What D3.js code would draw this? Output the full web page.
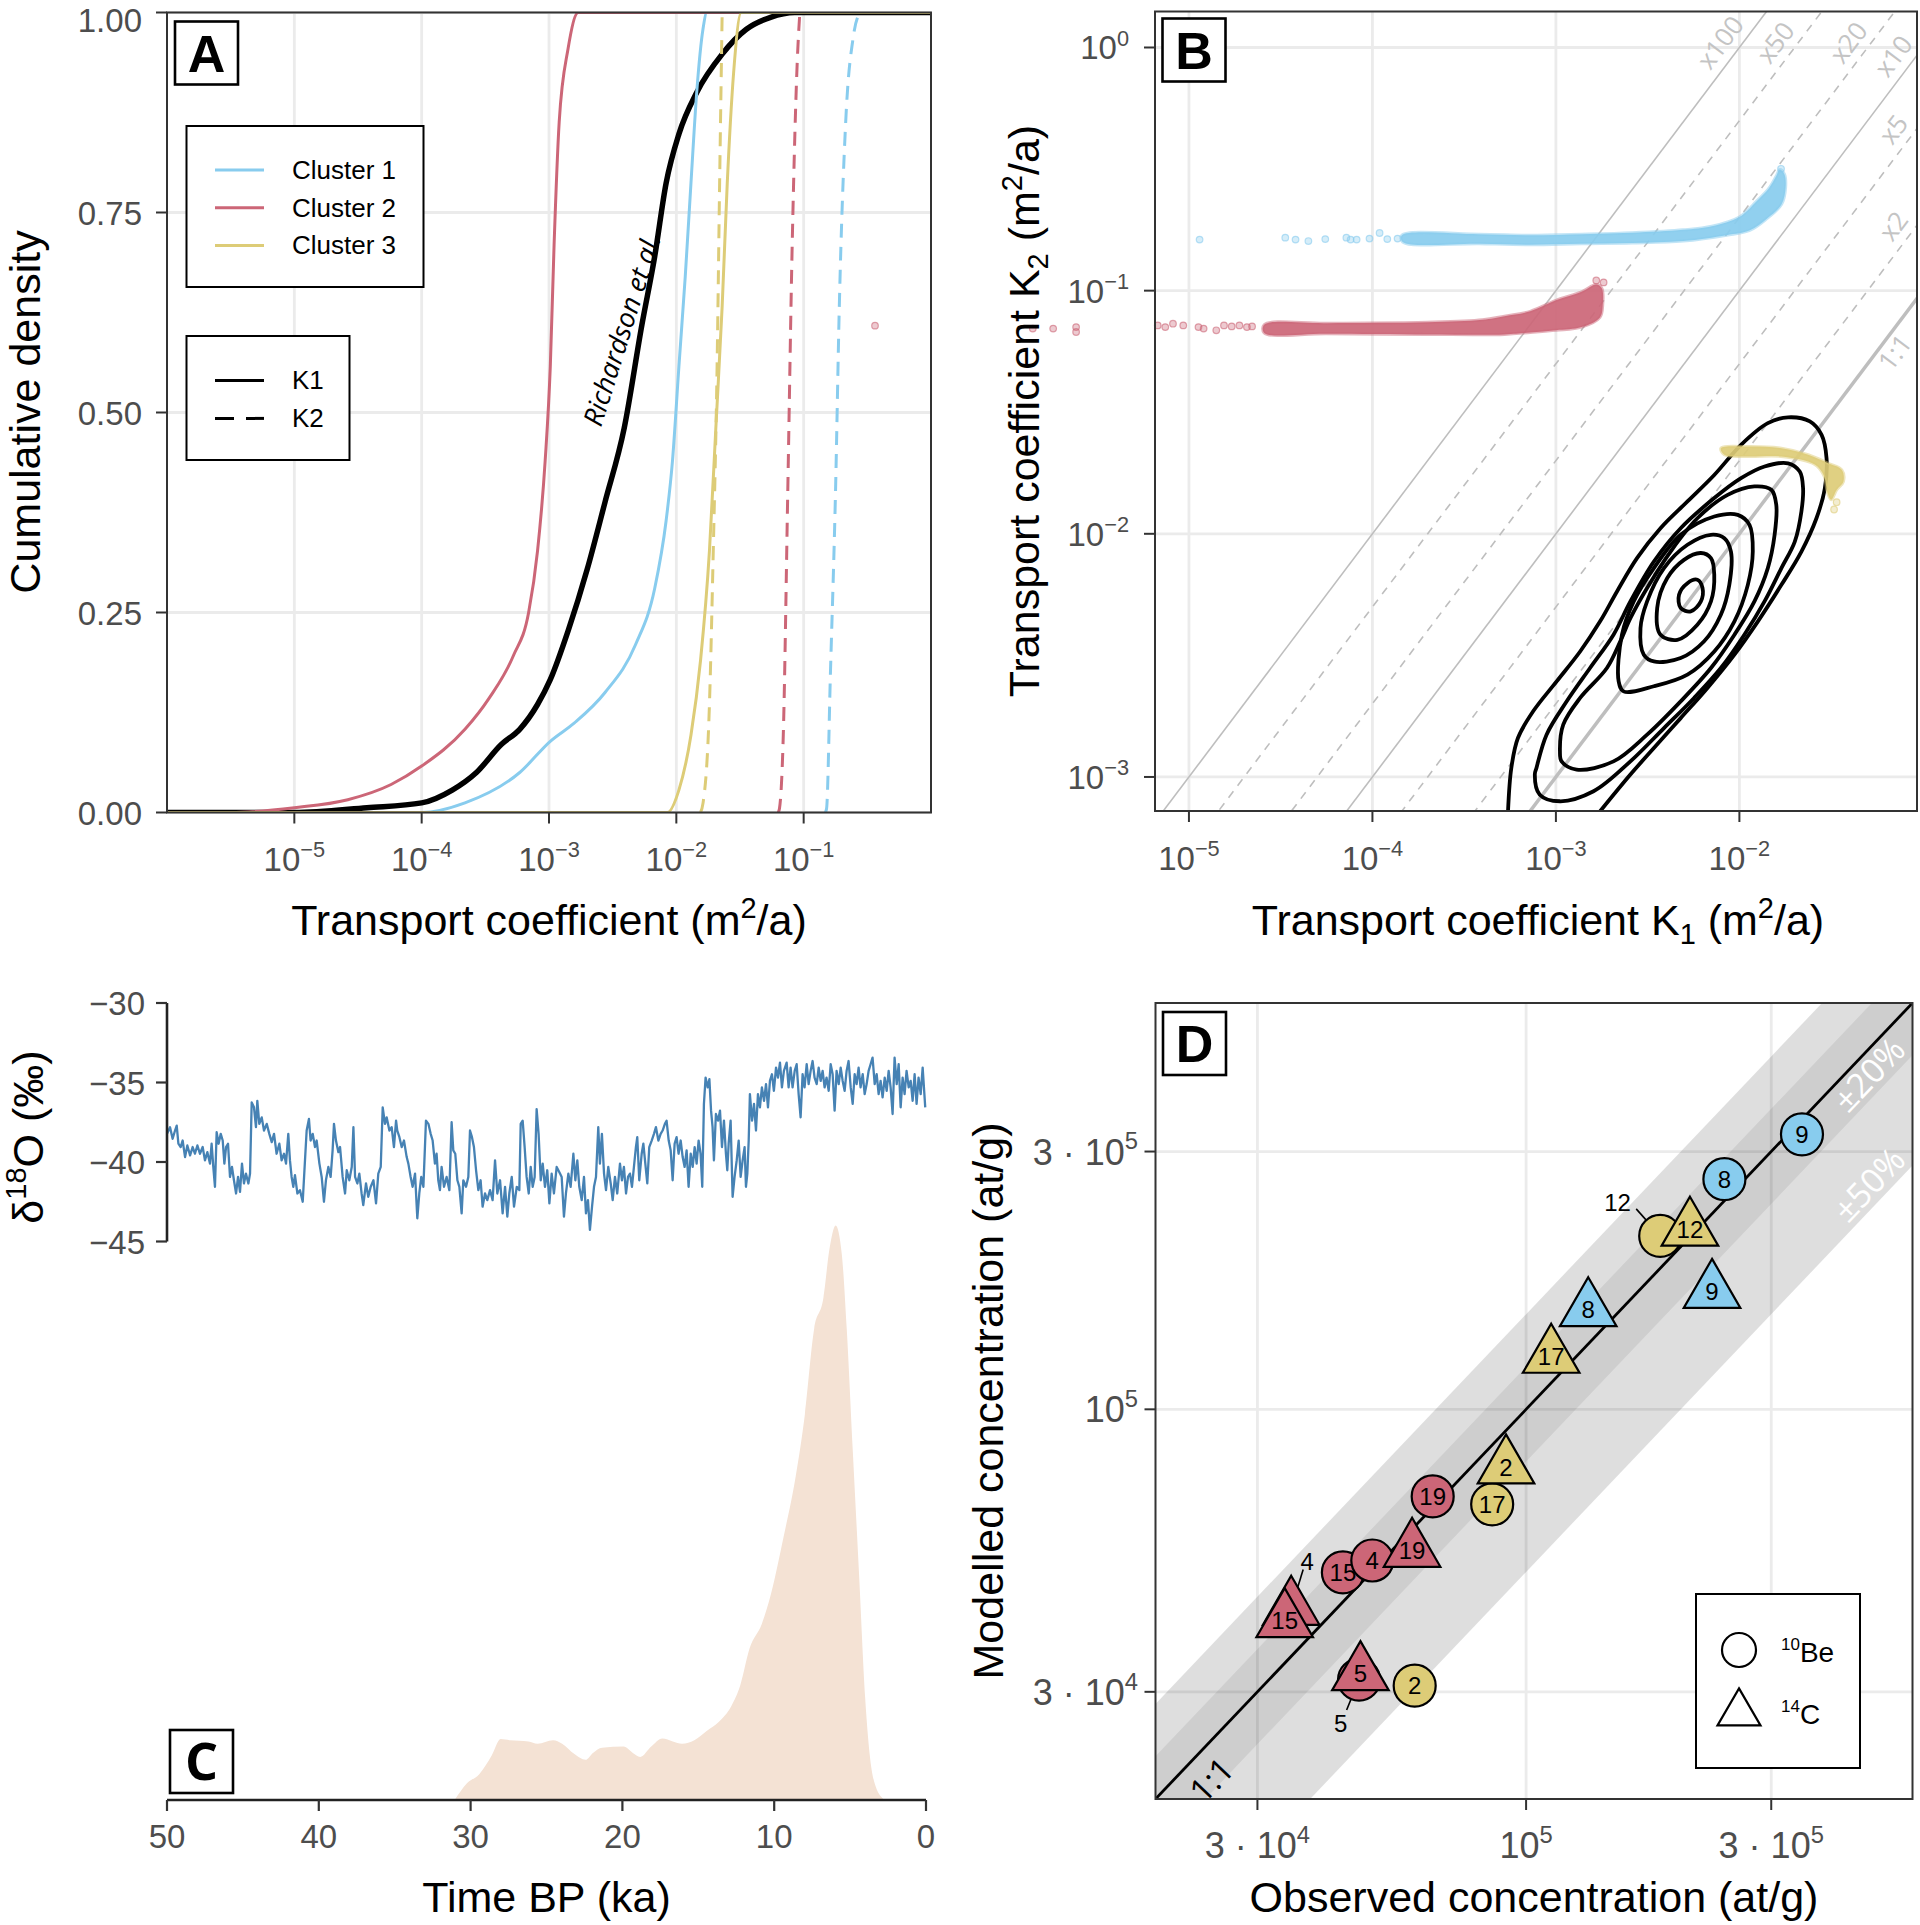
<!DOCTYPE html>
<html><head><meta charset="utf-8">
<script src="https://cdn.jsdelivr.net/npm/d3@7/dist/d3.min.js"></script>
<style>html,body{margin:0;padding:0;background:#fff;}svg{display:block;}</style>
</head><body>
<svg id="fig" width="1920" height="1925" xmlns="http://www.w3.org/2000/svg"></svg>
<script>
// ---------------- DATA ----------------
const clusterNames = ["Cluster 1","Cluster 2","Cluster 3"];
const clusterColors = ["#88CCEE","#CC6677","#DDCC77"];

// Panel A: empirical CDFs, pairs [log10(K), cumulative density]
const cdfRichardson = [[-6.1,0],[-5.0,0],[-4.43,0.006],[-4.0,0.012],[-3.76,0.028],[-3.57,0.05],[-3.375,0.085],[-3.23,0.104],[-3.09,0.135],[-2.99,0.166],[-2.85,0.227],[-2.70,0.304],[-2.56,0.388],[-2.41,0.48],[-2.27,0.61],[-2.17,0.695],[-2.08,0.787],[-1.98,0.848],[-1.84,0.90],[-1.64,0.948],[-1.45,0.979],[-1.26,0.994],[-1.07,1.0],[0.1,1]];
const cdfC1K1 = [[-6.1,0],[-4.0,0],[-3.66,0.012],[-3.23,0.05],[-2.99,0.089],[-2.80,0.112],[-2.56,0.15],[-2.32,0.21],[-2.17,0.28],[-2.08,0.365],[-2.03,0.44],[-1.98,0.557],[-1.93,0.67],[-1.885,0.787],[-1.84,0.90],[-1.79,0.98],[-1.76,1.0],[0.1,1]];
const cdfC2K1 = [[-6.1,0],[-5.5,0],[-5.0,0.006],[-4.58,0.016],[-4.24,0.035],[-4.0,0.058],[-3.66,0.104],[-3.47,0.143],[-3.28,0.196],[-3.16,0.25],[-3.09,0.327],[-3.03,0.44],[-2.99,0.557],[-2.96,0.71],[-2.92,0.863],[-2.85,0.955],[-2.77,1.0],[0.1,1]];
const cdfC3K1 = [[-6.1,0],[-2.07,0],[-1.98,0.028],[-1.885,0.097],[-1.81,0.19],[-1.74,0.327],[-1.69,0.48],[-1.64,0.633],[-1.60,0.787],[-1.55,0.925],[-1.49,1.0],[0.1,1]];
const cdfC1K2 = [[-0.83,0],[-0.82,0.005],[-0.79,0.173],[-0.75,0.40],[-0.72,0.633],[-0.67,0.863],[-0.61,0.97],[-0.56,1]];
const cdfC2K2 = [[-1.20,0],[-1.19,0.005],[-1.16,0.097],[-1.125,0.40],[-1.09,0.71],[-1.05,0.94],[-1.03,1]];
const cdfC3K2 = [[-1.81,0],[-1.79,0.012],[-1.74,0.135],[-1.71,0.327],[-1.68,0.557],[-1.66,0.787],[-1.64,1.0]];
const tickA_x = [1e-5,1e-4,1e-3,1e-2,1e-1];
const tickA_y = [0,0.25,0.5,0.75,1];

// Panel B: [log10 K1, log10 K2]
const diagMult = [1,2,5,10,20,50,100];
const diagLabel = ["1:1","x2","x5","x10","x20","x50","x100"];
const contour1 = [[-3.261,-3.141],[-3.243,-2.963],[-3.207,-2.840],[-3.124,-2.730],[-2.996,-2.607],[-2.868,-2.484],[-2.759,-2.360],[-2.667,-2.237],[-2.558,-2.100],[-2.430,-1.977],[-2.283,-1.867],[-2.137,-1.758],[-1.991,-1.634],[-1.845,-1.545],[-1.735,-1.521],[-1.616,-1.538],[-1.552,-1.593],[-1.525,-1.689],[-1.534,-1.812],[-1.580,-1.936],[-1.662,-2.073],[-1.771,-2.210],[-1.899,-2.360],[-2.027,-2.497],[-2.174,-2.634],[-2.320,-2.758],[-2.466,-2.881],[-2.594,-2.990],[-2.759,-3.141]];
const contour2 = [[-3.115,-2.990],[-3.106,-2.963],[-3.051,-2.826],[-2.941,-2.689],[-2.814,-2.552],[-2.686,-2.415],[-2.594,-2.278],[-2.466,-2.114],[-2.320,-1.977],[-2.137,-1.853],[-1.991,-1.771],[-1.863,-1.723],[-1.735,-1.710],[-1.671,-1.744],[-1.653,-1.812],[-1.662,-1.908],[-1.698,-2.032],[-1.771,-2.141],[-1.863,-2.278],[-1.973,-2.415],[-2.101,-2.552],[-2.247,-2.675],[-2.411,-2.799],[-2.594,-2.936],[-2.795,-3.059],[-2.978,-3.100],[-3.088,-3.073]];
const contour3 = [[-2.969,-2.936],[-2.978,-2.895],[-2.960,-2.785],[-2.868,-2.675],[-2.722,-2.552],[-2.649,-2.442],[-2.594,-2.347],[-2.503,-2.223],[-2.375,-2.073],[-2.229,-1.936],[-2.064,-1.840],[-1.918,-1.805],[-1.826,-1.819],[-1.799,-1.881],[-1.808,-2.004],[-1.845,-2.141],[-1.918,-2.278],[-2.027,-2.415],[-2.155,-2.552],[-2.320,-2.689],[-2.503,-2.826],[-2.686,-2.936],[-2.887,-2.970]];
const contour4 = [[-2.658,-2.607],[-2.640,-2.415],[-2.576,-2.278],[-2.466,-2.141],[-2.320,-2.004],[-2.137,-1.929],[-2.009,-1.922],[-1.945,-1.963],[-1.927,-2.073],[-1.954,-2.210],[-2.027,-2.360],[-2.137,-2.484],[-2.283,-2.579],[-2.466,-2.627],[-2.631,-2.648]];
const contour5 = [[-2.521,-2.497],[-2.539,-2.388],[-2.503,-2.278],[-2.411,-2.141],[-2.283,-2.045],[-2.155,-2.004],[-2.082,-2.018],[-2.046,-2.073],[-2.055,-2.210],[-2.101,-2.333],[-2.192,-2.442],[-2.320,-2.511],[-2.466,-2.525]];
const contour6 = [[-2.430,-2.415],[-2.448,-2.305],[-2.393,-2.182],[-2.302,-2.107],[-2.210,-2.079],[-2.155,-2.100],[-2.137,-2.168],[-2.155,-2.278],[-2.229,-2.374],[-2.338,-2.436]];
const contour7 = [[-2.320,-2.305],[-2.329,-2.251],[-2.283,-2.203],[-2.229,-2.189],[-2.201,-2.223],[-2.210,-2.278],[-2.265,-2.319]];
const cloud1 = [[-3.84,-0.772],[-3.42,-0.768],[-3.14,-0.772],[-2.86,-0.768],[-2.585,-0.762],[-2.306,-0.750],[-2.15,-0.735],[-2.0,-0.697],[-1.906,-0.632],[-1.84,-0.580],[-1.80,-0.530],[-1.78,-0.502],[-1.755,-0.52],[-1.748,-0.575],[-1.77,-0.645],[-1.852,-0.705],[-1.943,-0.752],[-2.07,-0.772],[-2.306,-0.796],[-2.585,-0.804],[-2.863,-0.807],[-3.141,-0.811],[-3.418,-0.807],[-3.835,-0.800]];
const cloud1Sparse = [[-4.942,-0.790],[-4.475,-0.782],[-4.419,-0.790],[-4.349,-0.796],[-4.257,-0.788],[-4.142,-0.782],[-4.119,-0.790],[-4.086,-0.790],[-4.016,-0.786],[-3.961,-0.763],[-3.919,-0.788],[-3.863,-0.786],[-1.773,-0.499]];
const cloud2 = [[-4.59,-1.140],[-4.25,-1.134],[-3.70,-1.130],[-3.40,-1.120],[-3.28,-1.105],[-3.14,-1.085],[-3.00,-1.040],[-2.86,-1.005],[-2.78,-0.975],[-2.75,-0.99],[-2.745,-1.06],[-2.76,-1.11],[-2.86,-1.150],[-3.00,-1.163],[-3.14,-1.172],[-3.28,-1.180],[-3.70,-1.180],[-4.25,-1.177],[-4.59,-1.174]];
const cloud2Sparse = [[-6.711,-1.144],[-5.851,-1.156],[-5.740,-1.156],[-5.615,-1.150],[-5.615,-1.170],[-5.170,-1.143],[-5.129,-1.150],[-5.087,-1.136],[-5.031,-1.143],[-4.948,-1.150],[-4.920,-1.156],[-4.851,-1.163],[-4.809,-1.143],[-4.767,-1.147],[-4.725,-1.143],[-4.684,-1.150],[-4.656,-1.147],[-2.78,-0.958],[-2.74,-0.966]];
const cloud3 = [[-2.101,-1.648],[-1.954,-1.641],[-1.771,-1.648],[-1.625,-1.675],[-1.516,-1.710],[-1.442,-1.737],[-1.433,-1.785],[-1.47,-1.82],[-1.50,-1.86],[-1.52,-1.83],[-1.54,-1.76],[-1.589,-1.715],[-1.771,-1.682],[-1.954,-1.682],[-2.082,-1.675]];
const cloud3Sparse = [[-1.484,-1.900],[-1.47,-1.87]];
const tickB_x = [1e-5,1e-4,1e-3,1e-2];
const tickB_y = [1e0,1e-1,1e-2,1e-3];

// Panel C: d18O record [age ka, permil] and density of exposure ages [ka, relative density]
const d18O = [[50.00,-38.23],[49.80,-37.81],[49.63,-38.54],[49.47,-38.02],[49.36,-37.71],[49.25,-38.85],[49.10,-39.06],[48.97,-38.65],[48.81,-39.69],[48.66,-38.96],[48.48,-39.58],[48.31,-39.06],[48.16,-39.48],[48.00,-38.96],[47.83,-39.48],[47.65,-39.06],[47.50,-39.90],[47.34,-39.38],[47.17,-40.10],[47.06,-38.85],[46.95,-40.31],[46.84,-41.56],[46.73,-38.13],[46.60,-38.85],[46.46,-38.23],[46.33,-38.65],[46.22,-40.10],[46.11,-39.06],[45.98,-38.85],[45.85,-40.94],[45.72,-40.31],[45.59,-41.15],[45.45,-41.98],[45.32,-40.94],[45.19,-41.88],[45.06,-40.10],[44.93,-41.35],[44.80,-40.73],[44.64,-41.35],[44.53,-40.73],[44.42,-36.25],[44.27,-36.56],[44.14,-37.81],[44.05,-36.15],[43.92,-37.60],[43.76,-37.19],[43.61,-38.02],[43.43,-37.60],[43.26,-38.23],[43.10,-38.75],[42.95,-38.23],[42.78,-39.48],[42.60,-38.85],[42.45,-39.90],[42.29,-39.48],[42.16,-40.10],[42.01,-38.23],[41.90,-39.90],[41.79,-40.94],[41.68,-41.56],[41.57,-40.83],[41.41,-41.98],[41.24,-41.77],[41.06,-42.50],[40.91,-39.90],[40.80,-38.02],[40.65,-37.29],[40.54,-38.65],[40.40,-38.23],[40.25,-39.06],[40.14,-38.65],[39.96,-40.10],[39.81,-40.94],[39.66,-42.50],[39.53,-41.15],[39.37,-40.31],[39.22,-40.94],[39.09,-39.27],[39.00,-37.60],[38.87,-38.65],[38.71,-39.38],[38.60,-39.06],[38.43,-40.94],[38.27,-41.98],[38.16,-40.52],[37.99,-41.15],[37.83,-40.31],[37.72,-37.81],[37.61,-40.94],[37.46,-41.35],[37.33,-40.73],[37.18,-41.98],[37.07,-42.71],[36.89,-41.35],[36.74,-42.19],[36.58,-41.56],[36.40,-41.15],[36.23,-42.60],[36.08,-40.73],[35.92,-40.31],[35.79,-36.56],[35.64,-37.60],[35.53,-37.19],[35.35,-38.02],[35.20,-37.81],[35.05,-39.06],[34.91,-37.40],[34.83,-38.02],[34.69,-38.44],[34.54,-39.06],[34.39,-38.65],[34.21,-39.69],[34.10,-40.10],[33.95,-40.94],[33.82,-41.56],[33.66,-40.73],[33.51,-43.54],[33.38,-41.98],[33.25,-40.94],[33.11,-41.56],[32.94,-37.40],[32.78,-37.60],[32.63,-38.23],[32.50,-38.65],[32.35,-40.10],[32.24,-39.48],[32.13,-41.15],[32.02,-41.77],[31.91,-40.31],[31.75,-41.56],[31.58,-40.94],[31.40,-41.77],[31.25,-37.50],[31.14,-39.27],[31.01,-39.48],[30.87,-41.15],[30.74,-41.56],[30.59,-43.23],[30.48,-41.15],[30.30,-41.56],[30.15,-40.94],[30.04,-38.02],[29.91,-38.44],[29.78,-39.06],[29.64,-40.52],[29.49,-41.77],[29.34,-41.15],[29.21,-42.81],[29.05,-41.98],[28.90,-42.40],[28.72,-41.77],[28.55,-42.40],[28.39,-39.90],[28.24,-41.98],[28.06,-41.15],[27.89,-43.23],[27.73,-41.56],[27.58,-43.44],[27.45,-41.98],[27.29,-40.94],[27.14,-42.81],[26.96,-41.56],[26.79,-41.77],[26.70,-37.60],[26.57,-37.40],[26.44,-39.06],[26.31,-40.94],[26.17,-41.98],[26.04,-40.31],[25.91,-41.56],[25.78,-40.94],[25.65,-36.67],[25.52,-38.23],[25.38,-41.15],[25.25,-40.10],[25.10,-41.56],[24.95,-40.52],[24.81,-42.60],[24.66,-40.73],[24.51,-41.98],[24.33,-40.31],[24.11,-40.73],
[24.00,-40.94],[23.85,-43.44],[23.72,-41.98],[23.56,-40.73],[23.41,-41.56],[23.23,-39.48],[23.10,-41.15],[22.97,-39.90],[22.84,-41.56],[22.68,-42.40],[22.53,-40.94],[22.40,-43.23],[22.27,-42.40],[22.14,-44.27],[22.00,-42.81],[21.87,-41.56],[21.74,-40.94],[21.59,-37.81],[21.48,-40.10],[21.35,-38.23],[21.21,-40.73],[21.08,-41.77],[20.93,-40.31],[20.77,-41.35],[20.64,-42.40],[20.49,-40.94],[20.34,-41.98],[20.16,-40.10],[20.03,-41.15],[19.90,-40.31],[19.76,-41.98],[19.63,-40.94],[19.50,-40.73],[19.37,-41.56],[19.24,-40.31],[19.11,-39.06],[19.02,-38.44],[18.89,-41.15],[18.73,-39.48],[18.62,-38.85],[18.49,-40.10],[18.36,-41.35],[18.23,-39.06],[18.07,-38.65],[17.92,-38.23],[17.79,-37.81],[17.63,-38.65],[17.48,-38.23],[17.35,-38.02],[17.20,-37.60],[17.09,-37.40],[16.95,-38.65],[16.82,-39.27],[16.69,-41.15],[16.56,-38.85],[16.43,-38.44],[16.30,-39.48],[16.16,-38.65],[16.03,-39.69],[15.90,-40.31],[15.77,-39.27],[15.64,-41.56],[15.50,-39.48],[15.37,-40.31],[15.24,-39.06],[15.11,-40.10],[14.98,-38.65],[14.85,-39.48],[14.74,-41.56],[14.63,-36.35],[14.52,-34.69],[14.38,-35.31],[14.27,-34.79],[14.16,-36.77],[14.06,-37.81],[13.97,-39.90],[13.84,-36.98],[13.70,-37.40],[13.57,-36.77],[13.44,-39.06],[13.31,-37.40],[13.18,-39.48],[13.09,-40.52],[13.00,-38.85],[12.87,-37.40],[12.74,-42.19],[12.61,-40.94],[12.47,-39.90],[12.34,-38.65],[12.21,-40.94],[12.08,-39.90],[11.95,-39.06],[11.86,-41.56],[11.77,-40.73],[11.68,-38.65],[11.60,-35.73],[11.46,-37.40],[11.33,-36.35],[11.20,-38.02],[11.07,-35.73],[10.94,-36.56],[10.81,-35.31],[10.67,-36.15],[10.54,-35.10],[10.41,-36.56],[10.28,-34.90],[10.15,-34.48],[10.02,-35.52],[9.88,-34.06],[9.75,-34.69],[9.62,-33.75],[9.49,-35.31],[9.36,-34.27],[9.18,-33.75],[9.05,-35.31],[8.92,-34.06],[8.79,-35.31],[8.65,-34.27],[8.52,-33.85],[8.39,-35.73],[8.26,-37.19],[8.13,-34.48],[8.00,-35.31],[7.86,-33.85],[7.73,-35.10],[7.60,-34.27],[7.47,-33.65],[7.34,-34.69],[7.20,-35.10],[7.07,-34.06],[6.94,-34.90],[6.81,-34.27],[6.68,-35.31],[6.55,-34.69],[6.41,-35.52],[6.28,-33.85],[6.15,-34.48],[6.02,-36.77],[5.89,-34.27],[5.75,-35.10],[5.62,-34.06],[5.49,-34.90],[5.36,-35.52],[5.23,-34.27],[5.10,-33.65],[4.96,-35.31],[4.83,-36.35],[4.70,-34.48],[4.57,-35.10],[4.44,-34.06],[4.31,-35.31],[4.17,-34.48],[4.04,-35.73],[3.91,-35.10],[3.78,-34.27],[3.65,-33.85],[3.52,-33.44],[3.38,-35.10],[3.25,-34.48],[3.12,-35.73],[2.99,-34.90],[2.86,-35.94],[2.72,-34.69],[2.59,-35.52],[2.46,-34.27],[2.33,-35.31],[2.20,-36.98],[2.07,-33.44],[1.93,-35.10],[1.80,-33.85],[1.67,-36.56],[1.54,-34.69],[1.41,-35.73],[1.28,-34.27],[1.14,-35.31],[1.01,-34.90],[0.88,-36.15],[0.75,-34.48],[0.62,-36.35],[0.49,-34.69],[0.35,-35.73],[0.22,-34.06],[0.05,-36.56]];
const ageDensity = [[31.05,0],[30.24,0.029],[29.43,0.045],[28.62,0.077],[28.02,0.106],[27.41,0.104],[26.19,0.102],[25.59,0.098],[24.57,0.104],[23.97,0.098],[23.16,0.080],[22.43,0.070],[21.94,0.082],[21.34,0.091],[19.92,0.093],[19.31,0.082],[18.83,0.075],[18.10,0.093],[17.37,0.107],[16.68,0.102],[16.07,0.098],[15.26,0.104],[14.45,0.120],[13.64,0.136],[12.83,0.163],[12.23,0.200],[11.62,0.264],[10.81,0.307],[10.20,0.360],[9.39,0.457],[8.58,0.564],[7.98,0.671],[7.37,0.820],[6.76,0.874],[6.36,0.959],[5.95,1.0],[5.55,0.951],[5.22,0.820],[4.82,0.606],[4.41,0.393],[4.01,0.179],[3.72,0.082],[3.32,0.024],[2.71,0]];
const tickC_x = [50,40,30,20,10,0];
const tickC_y = [-30,-35,-40,-45];

// Panel D: observed vs modelled concentrations (at/g)
const beSample  = ["9","8","12","17","19","15","4","5","2"];
const beCluster = [1,1,3,3,2,2,2,2,3];
const beObs = [344300,243200,182400,85900,65800,44000,50200,47300,60700];
const beMod = [322800,266700,209400,66700,69000,49900,52500,31600,30800];
const cSample  = ["12","9","8","17","2","19","4","15","5"];
const cCluster = [3,1,1,3,3,2,2,2,2];
const cObs = [208400,230100,132100,111900,91400,60000,34900,33900,47600];
const cMod = [215300,165200,152800,125300,78200,54800,42800,40600,32400];
const bandFactors = [0.5,0.2];
const tickD = [3e4,1e5,3e5];

// ---------------- DRAWING ----------------
const svg = d3.select("#fig");
const SANS = "'Liberation Sans', Arial, Helvetica, sans-serif";
const OPEN = "'Open Sans', 'Liberation Sans', sans-serif";
const GRID = "#EBEBEB", BORDER = "#333333", TT = "#4D4D4D";
const MINUS = "\u2212";
const defs = svg.append("defs");
function clipRect(id, r){ defs.append("clipPath").attr("id",id).append("rect").attr("x",r.l).attr("y",r.t).attr("width",r.r-r.l).attr("height",r.b-r.t); return `url(#${id})`; }
function expStr(v){ const e=Math.round(Math.log10(v)); return e<0? MINUS+(-e) : String(e); }
function supText(g, x, y, base, sup, size, anchor, fill){
  const t = g.append("text").attr("x",x).attr("y",y).attr("font-family",SANS).attr("font-size",size).attr("text-anchor",anchor).attr("fill",fill);
  t.append("tspan").text(base);
  t.append("tspan").attr("font-size",size*0.66).attr("dy",-size*0.42).text(sup);
  return t;
}
function letterBox(x,y,letter,font){
  svg.append("rect").attr("x",x).attr("y",y).attr("width",63).attr("height",63).attr("fill","#fff").attr("stroke","#000").attr("stroke-width",2.6);
  svg.append("text").attr("x",x+31.5).attr("y",y+50).attr("text-anchor","middle").attr("font-family",font).attr("font-weight","bold").attr("font-size",52).attr("fill","#000").text(letter);
}
function border(p){ svg.append("rect").attr("x",p.l).attr("y",p.t).attr("width",p.r-p.l).attr("height",p.b-p.t).attr("fill","none").attr("stroke",BORDER).attr("stroke-width",2); }
function yTitle(x,y,build){ const t=svg.append("text").attr("transform",`translate(${x},${y}) rotate(-90)`).attr("y",15).attr("text-anchor","middle").attr("font-family",SANS).attr("font-size",43).attr("fill","#000"); build(t); return t; }
function xTitle(x,y,build){ const t=svg.append("text").attr("x",x).attr("y",y).attr("text-anchor","middle").attr("font-family",SANS).attr("font-size",43).attr("fill","#000"); build(t); return t; }

// ===== Panel A =====
const pA = {l:167,r:931,t:12.5,b:812.5};
const xA = d3.scaleLog().domain([1e-6,1]).range([pA.l,pA.r]);
const yA = d3.scaleLinear().domain([0,1]).range([pA.b,pA.t]);
const gA = svg.append("g");
gA.selectAll(null).data(tickA_x).join("line").attr("x1",d=>xA(d)).attr("x2",d=>xA(d)).attr("y1",pA.t).attr("y2",pA.b).attr("stroke",GRID).attr("stroke-width",2.8);
gA.selectAll(null).data(tickA_y).join("line").attr("x1",pA.l).attr("x2",pA.r).attr("y1",d=>yA(d)).attr("y2",d=>yA(d)).attr("stroke",GRID).attr("stroke-width",2.8);
const lineA = d3.line().x(d=>xA(10**d[0])).y(d=>yA(d[1])).curve(d3.curveMonotoneX);
const cA = gA.append("g").attr("clip-path",clipRect("clipA",pA));
cA.append("path").attr("d",lineA(cdfRichardson)).attr("fill","none").attr("stroke","#000").attr("stroke-width",5.5);
[[cdfC1K1,0,false],[cdfC2K1,1,false],[cdfC3K1,2,false],[cdfC1K2,0,true],[cdfC2K2,1,true],[cdfC3K2,2,true]].forEach(([d,c,dash])=>{
  cA.append("path").attr("d",lineA(d)).attr("fill","none").attr("stroke",clusterColors[c]).attr("stroke-width",3).attr("stroke-dasharray",dash?"14,9":null);
});
gA.append("text").attr("transform","translate(622,330) rotate(-72.5)").attr("text-anchor","middle").attr("dy","0.35em").attr("font-family",OPEN).attr("font-style","italic").attr("font-size",27).text("Richardson et al.");
// legends
gA.append("rect").attr("x",186.5).attr("y",126).attr("width",237).attr("height",161).attr("fill","#fff").attr("stroke","#000").attr("stroke-width",2);
clusterNames.forEach((n,i)=>{
  const y=170+i*37.7;
  gA.append("line").attr("x1",215).attr("x2",264).attr("y1",y).attr("y2",y).attr("stroke",clusterColors[i]).attr("stroke-width",3);
  gA.append("text").attr("x",292).attr("y",y+9).attr("font-family",SANS).attr("font-size",26).text(n);
});
gA.append("rect").attr("x",186.5).attr("y",336).attr("width",163).attr("height",124).attr("fill","#fff").attr("stroke","#000").attr("stroke-width",2);
["K1","K2"].forEach((n,i)=>{
  const y=380.4+i*38;
  gA.append("line").attr("x1",215).attr("x2",264).attr("y1",y).attr("y2",y).attr("stroke","#000").attr("stroke-width",3).attr("stroke-dasharray",i?"19,12":null);
  gA.append("text").attr("x",292).attr("y",y+9).attr("font-family",SANS).attr("font-size",26).text(n);
});
border(pA);
tickA_x.forEach(v=>{ gA.append("line").attr("x1",xA(v)).attr("x2",xA(v)).attr("y1",pA.b).attr("y2",pA.b+11).attr("stroke",BORDER).attr("stroke-width",2);
  supText(gA,xA(v),pA.b+58,"10",expStr(v),33,"middle",TT); });
tickA_y.forEach(v=>{ gA.append("line").attr("x1",pA.l-11).attr("x2",pA.l).attr("y1",yA(v)).attr("y2",yA(v)).attr("stroke",BORDER).attr("stroke-width",2);
  gA.append("text").attr("x",142).attr("y",Math.max(yA(v)+12,32)).attr("text-anchor","end").attr("font-family",SANS).attr("font-size",33).attr("fill",TT).text(d3.format(".2f")(v)); });
xTitle(549,935,t=>{ t.append("tspan").text("Transport coefficient (m"); t.append("tspan").attr("font-size",29).attr("dy",-17).text("2"); t.append("tspan").attr("dy",17).text("/a)"); });
yTitle(25,412,t=>t.text("Cumulative density"));
letterBox(175,21.5,"A",SANS);

// ===== Panel B =====
const pB = {l:1155,r:1917,t:11.5,b:811};
const xB = d3.scaleLog().domain([10**-5.185,10**-1.032]).range([pB.l,pB.r]);
const yB = d3.scaleLog().domain([10**-3.14,10**0.148]).range([pB.b,pB.t]);
const gB = svg.append("g");
gB.selectAll(null).data(tickB_x).join("line").attr("x1",d=>xB(d)).attr("x2",d=>xB(d)).attr("y1",pB.t).attr("y2",pB.b).attr("stroke",GRID).attr("stroke-width",2.8);
gB.selectAll(null).data(tickB_y).join("line").attr("x1",pB.l).attr("x2",pB.r).attr("y1",d=>yB(d)).attr("y2",d=>yB(d)).attr("stroke",GRID).attr("stroke-width",2.8);
const cB = gB.append("g").attr("clip-path",clipRect("clipB",pB));
const dashedMult = {2:true,5:true,20:true,50:true};
const k1Dom = [1e-7,1];
diagMult.forEach(m=>{
  cB.append("line").attr("x1",xB(k1Dom[0])).attr("y1",yB(k1Dom[0]*m)).attr("x2",xB(k1Dom[1])).attr("y2",yB(k1Dom[1]*m))
    .attr("stroke","#BEBEBE").attr("stroke-width",m===1?3.5:1.6).attr("stroke-dasharray",dashedMult[m]?"8,7":null);
});
const angB = -Math.atan2(yB(1e-3)-yB(1e-2), xB(1e-2)-xB(1e-3))*180/Math.PI;
diagMult.forEach((m,i)=>{
  let px,py,ox=-14.4,oy=-10.9;
  if(m>=20){ py=pB.t+42; const k2=yB.invert(py); px=xB(k2/m); }
  else if(m>1){ px=pB.r-9; py=yB(xB.invert(px)*m); }
  else { px=pB.r-34; py=yB(xB.invert(px)); ox=12; oy=9; }
  gB.append("text").attr("transform",`translate(${px+ox},${py+oy}) rotate(${angB})`).attr("text-anchor","middle").attr("dy","0.35em")
    .attr("font-family",OPEN).attr("font-size",26).attr("fill","#C4C4C4").text(diagLabel[i]);
});
const lineBc = d3.line().x(d=>xB(10**d[0])).y(d=>yB(10**d[1]));
cB.append("path").attr("d",lineBc.curve(d3.curveCatmullRom.alpha(0.5))(contour1)).attr("fill","none").attr("stroke","#000").attr("stroke-width",3.8);
[contour2,contour3,contour4,contour5,contour6,contour7].forEach(c=>{
  cB.append("path").attr("d",lineBc.curve(d3.curveCatmullRomClosed.alpha(0.5))(c)).attr("fill","none").attr("stroke","#000").attr("stroke-width",3.8);
});
[[cloud1,cloud1Sparse,0],[cloud2,cloud2Sparse,1],[cloud3,cloud3Sparse,2]].forEach(([poly,sp,c])=>{
  gB.append("path").attr("d",lineBc.curve(d3.curveCatmullRomClosed.alpha(0.5))(poly)).attr("fill",clusterColors[c]).attr("fill-opacity",0.92).attr("stroke",clusterColors[c]).attr("stroke-opacity",0.5).attr("stroke-width",3);
  gB.selectAll(null).data(sp).join("circle").attr("cx",d=>xB(10**d[0])).attr("cy",d=>yB(10**d[1])).attr("r",3.3)
    .attr("fill",clusterColors[c]).attr("fill-opacity",0.35).attr("stroke",clusterColors[c]).attr("stroke-opacity",0.6).attr("stroke-width",1.2);
});
border(pB);
tickB_x.forEach(v=>{ gB.append("line").attr("x1",xB(v)).attr("x2",xB(v)).attr("y1",pB.b).attr("y2",pB.b+11).attr("stroke",BORDER).attr("stroke-width",2);
  supText(gB,xB(v),pB.b+59,"10",expStr(v),33,"middle",TT); });
tickB_y.forEach(v=>{ gB.append("line").attr("x1",pB.l-11).attr("x2",pB.l).attr("y1",yB(v)).attr("y2",yB(v)).attr("stroke",BORDER).attr("stroke-width",2);
  supText(gB,1129,yB(v)+12,"10",expStr(v),33,"end",TT); });
xTitle(1538,935,t=>{ t.append("tspan").text("Transport coefficient K"); t.append("tspan").attr("font-size",29).attr("dy",9).text("1"); t.append("tspan").attr("dy",-9).text(" (m"); t.append("tspan").attr("font-size",29).attr("dy",-17).text("2"); t.append("tspan").attr("dy",17).text("/a)"); });
yTitle(1024,411,t=>{ t.append("tspan").text("Transport coefficient K"); t.append("tspan").attr("font-size",29).attr("dy",9).text("2"); t.append("tspan").attr("dy",-9).text(" (m"); t.append("tspan").attr("font-size",29).attr("dy",-17).text("2"); t.append("tspan").attr("dy",17).text("/a)"); });
letterBox(1162.5,18.5,"B",SANS);

// ===== Panel C =====
const xC = d3.scaleLinear().domain([50,0]).range([167,926]);
const yC = d3.scaleLinear().domain([-45,-30]).range([1241.5,1003]);
const yCd = d3.scaleLinear().domain([0,1]).range([1800,1225.5]);
const gC = svg.append("g");
gC.append("path").attr("d",d3.area().x(d=>xC(d[0])).y0(yCd(0)).y1(d=>yCd(d[1])).curve(d3.curveMonotoneX)(ageDensity)).attr("fill","#F4E2D4");
gC.append("path").attr("d",d3.line().x(d=>xC(d[0])).y(d=>yC(d[1]))(d18O)).attr("fill","none").attr("stroke","#4682B4").attr("stroke-width",2.3).attr("stroke-linejoin","round");
gC.append("line").attr("x1",xC(50)).attr("x2",xC(0)).attr("y1",1800).attr("y2",1800).attr("stroke","#222").attr("stroke-width",2.6);
gC.append("line").attr("x1",167).attr("x2",167).attr("y1",yC(-30)).attr("y2",yC(-45)).attr("stroke","#222").attr("stroke-width",2.6);
tickC_x.forEach(v=>{ gC.append("line").attr("x1",xC(v)).attr("x2",xC(v)).attr("y1",1800).attr("y2",1811).attr("stroke","#333").attr("stroke-width",2.2);
  gC.append("text").attr("x",xC(v)).attr("y",1848).attr("text-anchor","middle").attr("font-family",SANS).attr("font-size",33).attr("fill",TT).text(v); });
tickC_y.forEach(v=>{ gC.append("line").attr("x1",156).attr("x2",167).attr("y1",yC(v)).attr("y2",yC(v)).attr("stroke","#333").attr("stroke-width",2.2);
  gC.append("text").attr("x",145).attr("y",yC(v)+12).attr("text-anchor","end").attr("font-family",SANS).attr("font-size",33).attr("fill",TT).text(MINUS+(-v)); });
xTitle(546.5,1912,t=>t.text("Time BP (ka)"));
yTitle(28,1137,t=>{ t.append("tspan").text("δ"); t.append("tspan").attr("font-size",29).attr("dy",-17).text("18"); t.append("tspan").attr("dy",17).text("O (‰)"); });
letterBox(170,1730,"C",OPEN);

// ===== Panel D =====
const pD = {l:1155.5,r:1912.5,t:1003,b:1799};
const xD = d3.scaleLog().domain([1.9e4,5.65e5]).range([pD.l,pD.r]);
const yD = d3.scaleLog().domain([1.9e4,5.65e5]).range([pD.b,pD.t]);
const gD = svg.append("g");
gD.selectAll(null).data(tickD).join("line").attr("x1",d=>xD(d)).attr("x2",d=>xD(d)).attr("y1",pD.t).attr("y2",pD.b).attr("stroke",GRID).attr("stroke-width",2.8);
gD.selectAll(null).data(tickD).join("line").attr("x1",pD.l).attr("x2",pD.r).attr("y1",d=>yD(d)).attr("y2",d=>yD(d)).attr("stroke",GRID).attr("stroke-width",2.8);
const cD = gD.append("g").attr("clip-path",clipRect("clipD",pD));
const oDom = [5e3,2e6];
bandFactors.forEach((f,i)=>{
  const pts = [[oDom[0],oDom[0]*(1+f)],[oDom[1],oDom[1]*(1+f)],[oDom[1],oDom[1]*(1-f)],[oDom[0],oDom[0]*(1-f)]];
  cD.append("path").attr("d",d3.line().x(d=>xD(d[0])).y(d=>yD(d[1]))(pts)+"Z").attr("fill","#000").attr("fill-opacity",i===0?0.13:0.07);
});
cD.append("line").attr("x1",xD(oDom[0])).attr("y1",yD(oDom[0])).attr("x2",xD(oDom[1])).attr("y2",yD(oDom[1])).attr("stroke","#000").attr("stroke-width",2.8);
const angD = -Math.atan2(yD(1e4)-yD(1e5), xD(1e5)-xD(1e4))*180/Math.PI;
const bandLabelObs = 4.65e5;
[["±20%",0.895],["±50%",0.56]].forEach(([txt,f])=>{
  cD.append("text").attr("transform",`translate(${xD(bandLabelObs)},${yD(bandLabelObs*f)}) rotate(${angD})`).attr("text-anchor","middle").attr("dy","0.35em")
    .attr("font-family",OPEN).attr("font-size",34).attr("fill","#fff").text(txt);
});
cD.append("text").attr("transform",`translate(${xD(24430)},${yD(24430*0.843)}) rotate(${angD})`).attr("text-anchor","middle").attr("dy","0.35em").attr("font-family",OPEN).attr("font-size",33).attr("fill","#000").text("1:1");
// repelled labels for hidden points
const repel = [
  {obs:beObs[2],mod:beMod[2],txt:beSample[2],lx:-42.6,ly:-33.4,sx:-24,sy:-27},
  {obs:cObs[6],mod:cMod[6],txt:cSample[6],lx:16,ly:-46.5,sx:12,sy:-39},
  {obs:beObs[7],mod:beMod[7],txt:beSample[7],lx:-18.4,ly:43.7,sx:-12.4,sy:30.4}
];
repel.forEach(r=>{ const x=xD(r.obs), y=yD(r.mod);
  gD.append("line").attr("x1",x+r.sx).attr("y1",y+r.sy).attr("x2",x).attr("y2",y).attr("stroke","#000").attr("stroke-width",1.6); });
const hiddenBe = {"12":true,"5":true}, hiddenC = {"4":true};
beSample.forEach((s,i)=>{
  const x=xD(beObs[i]), y=yD(beMod[i]);
  gD.append("circle").attr("cx",x).attr("cy",y).attr("r",21).attr("fill",clusterColors[beCluster[i]-1]).attr("stroke","#000").attr("stroke-width",2.2);
  if(!hiddenBe[s]) gD.append("text").attr("x",x).attr("y",y+8.5).attr("text-anchor","middle").attr("font-family",SANS).attr("font-size",24).text(s);
});
const triH = 49, triS = triH/Math.sin(Math.PI/3);
const triPath = (x,y,h,s)=>`M${x},${y-2*h/3}L${x+s/2},${y+h/3}L${x-s/2},${y+h/3}Z`;
cSample.forEach((s,i)=>{
  const x=xD(cObs[i]), y=yD(cMod[i]);
  gD.append("path").attr("d",triPath(x,y,triH,triS)).attr("fill",clusterColors[cCluster[i]-1]).attr("stroke","#000").attr("stroke-width",2.2).attr("stroke-linejoin","miter");
  if(!hiddenC[s]) gD.append("text").attr("x",x).attr("y",y+8.5).attr("text-anchor","middle").attr("font-family",SANS).attr("font-size",24).text(s);
});
repel.forEach(r=>{ const x=xD(r.obs), y=yD(r.mod);
  gD.append("text").attr("x",x+r.lx).attr("y",y+r.ly+8.5).attr("text-anchor","middle").attr("font-family",SANS).attr("font-size",24).text(r.txt); });
// legend
gD.append("rect").attr("x",1696).attr("y",1594).attr("width",164).attr("height",174).attr("fill","#fff").attr("stroke","#000").attr("stroke-width",2);
gD.append("circle").attr("cx",1739).attr("cy",1650).attr("r",17).attr("fill","none").attr("stroke","#000").attr("stroke-width",2.2);
gD.append("path").attr("d",triPath(1739,1713,37,43)).attr("fill","none").attr("stroke","#000").attr("stroke-width",2.2);
[["10","Be",1662],["14","C",1724]].forEach(([sup,base,y])=>{
  const t=gD.append("text").attr("x",1781).attr("y",y).attr("font-family",SANS).attr("font-size",28);
  t.append("tspan").attr("font-size",17).attr("dy",-12).text(sup);
  t.append("tspan").attr("dy",12).text(base);
});
border(pD);
function dLab(v){ const e=Math.floor(Math.log10(v)+1e-9); const m=Math.round(v/10**e); return [(m===1?"":m+" \u00B7 ")+"10", String(e)]; }
tickD.forEach(v=>{ const [b,e]=dLab(v);
  gD.append("line").attr("x1",xD(v)).attr("x2",xD(v)).attr("y1",pD.b).attr("y2",pD.b+11).attr("stroke",BORDER).attr("stroke-width",2);
  supText(gD,xD(v),pD.b+59,b,e,36,"middle",TT);
  gD.append("line").attr("x1",pD.l-11).attr("x2",pD.l).attr("y1",yD(v)).attr("y2",yD(v)).attr("stroke",BORDER).attr("stroke-width",2);
  supText(gD,1138,yD(v)+13,b,e,36,"end",TT);
});
xTitle(1534,1912,t=>t.text("Observed concentration (at/g)"));
yTitle(988,1401,t=>t.text("Modelled concentration (at/g)"));
letterBox(1163,1012,"D",SANS);
</script></body></html>
